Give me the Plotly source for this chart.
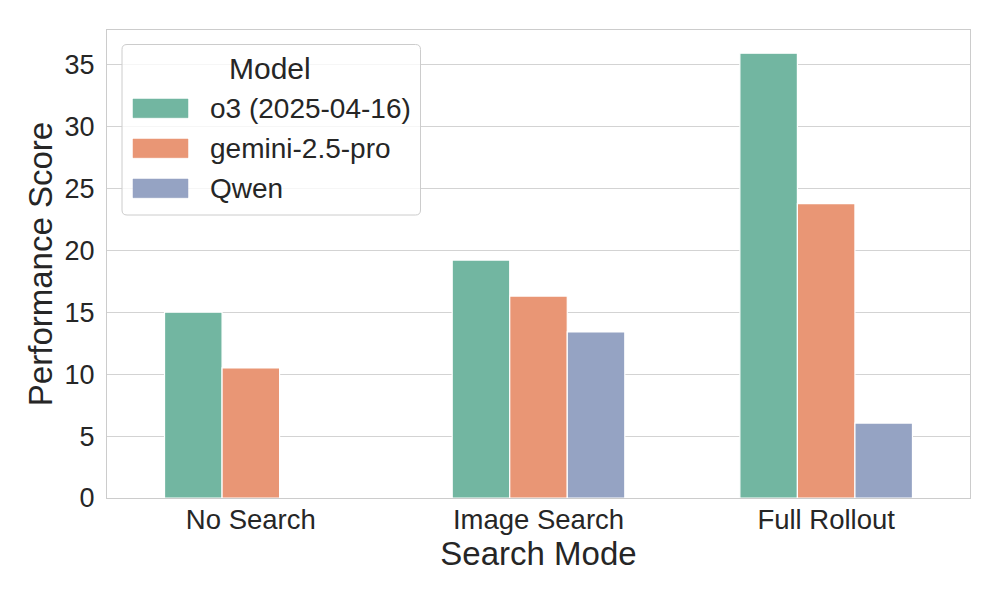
import plotly.graph_objects as go

categories = ["No Search", "Image Search", "Full Rollout"]
models = ["o3 (2025-04-16)", "gemini-2.5-pro", "Qwen"]
o3_values = [15.0, 19.2, 35.9]
gemini_values = [10.5, 16.3, 23.75]
qwen_values = [None, 13.4, 6.05]
colors = ["#72b6a1", "#e99675", "#95a3c3"]
y_ticks = [0, 5, 10, 15, 20, 25, 30, 35]

series = [o3_values, gemini_values, qwen_values]

W, H = 1000, 600
L, R, T, B = 107, 30, 30, 102
PW, PH = W - L - R, H - T - B
FONT = "Liberation Sans, Arial, sans-serif"
TXT = "#262626"


def px_x(x):
    return (x - L) / PW


def px_y(y):
    return (H - B - y) / PH


fig = go.Figure()
for name, vals, c in zip(models, series, colors):
    fig.add_trace(go.Bar(
        x=categories, y=vals, name=name, showlegend=False,
        marker=dict(color=c, line=dict(color="white", width=1.2)),
    ))

# manual legend
shapes = []
annotations = []
bx0, bx1, by0, by1, r = 122, 420.5, 44.5, 215, 5
rx, ry = r / PW, r / PH
x0, x1, y0, y1 = px_x(bx0), px_x(bx1), px_y(by1), px_y(by0)
path = (f"M {x0+rx},{y0} L {x1-rx},{y0} Q {x1},{y0} {x1},{y0+ry} "
        f"L {x1},{y1-ry} Q {x1},{y1} {x1-rx},{y1} L {x0+rx},{y1} "
        f"Q {x0},{y1} {x0},{y1-ry} L {x0},{y0+ry} Q {x0},{y0} {x0+rx},{y0} Z")
shapes.append(dict(type="path", path=path, xref="paper", yref="paper",
                   fillcolor="rgba(255,255,255,0.8)",
                   line=dict(color="#cccccc", width=1), layer="above"))
annotations.append(dict(text="Model", x=px_x(270), y=px_y(68), xref="paper", yref="paper",
                        showarrow=False, xanchor="center", yanchor="middle",
                        font=dict(size=30, color=TXT, family=FONT)))
for i, (name, c) in enumerate(zip(models, colors)):
    top = 99 + 40 * i
    shapes.append(dict(type="rect", xref="paper", yref="paper",
                       x0=px_x(133), x1=px_x(188), y0=px_y(top + 18.7), y1=px_y(top),
                       fillcolor=c, line=dict(color=c, width=0.5), layer="above"))
    annotations.append(dict(text=name, x=px_x(208), y=px_y(top + 9.5), xref="paper", yref="paper",
                            showarrow=False, xanchor="left", yanchor="middle",
                            font=dict(size=28, color=TXT, family=FONT)))

fig.update_layout(
    width=W, height=H,
    margin=dict(l=L, r=R, t=T, b=B),
    paper_bgcolor="white", plot_bgcolor="white",
    barmode="group", bargap=0.4, bargroupgap=0,
    font=dict(family=FONT, color=TXT),
    shapes=shapes, annotations=annotations,
    xaxis=dict(
        title=dict(text="Search Mode", font=dict(size=33, color=TXT), standoff=4),
        tickfont=dict(size=27.5, color=TXT),
        showgrid=False, showline=True, linecolor="#cccccc", linewidth=1.2, mirror=True,
        ticks="", ticklabelstandoff=-3, range=[-0.5, 2.5],
    ),
    yaxis=dict(
        title=dict(text="Performance Score", font=dict(size=33, color=TXT), standoff=1),
        tickfont=dict(size=27, color=TXT),
        tickvals=y_ticks, range=[0, 37.77],
        showgrid=True, gridcolor="#d3d3d3", gridwidth=1.2,
        showline=True, linecolor="#cccccc", linewidth=1.2, mirror=True,
        ticks="", ticklabelstandoff=6, zeroline=False,
    ),
)

fig.write_html("out.html", config={"displayModeBar": False},
               post_script="document.body.style.margin='0';document.body.style.padding='0';")
